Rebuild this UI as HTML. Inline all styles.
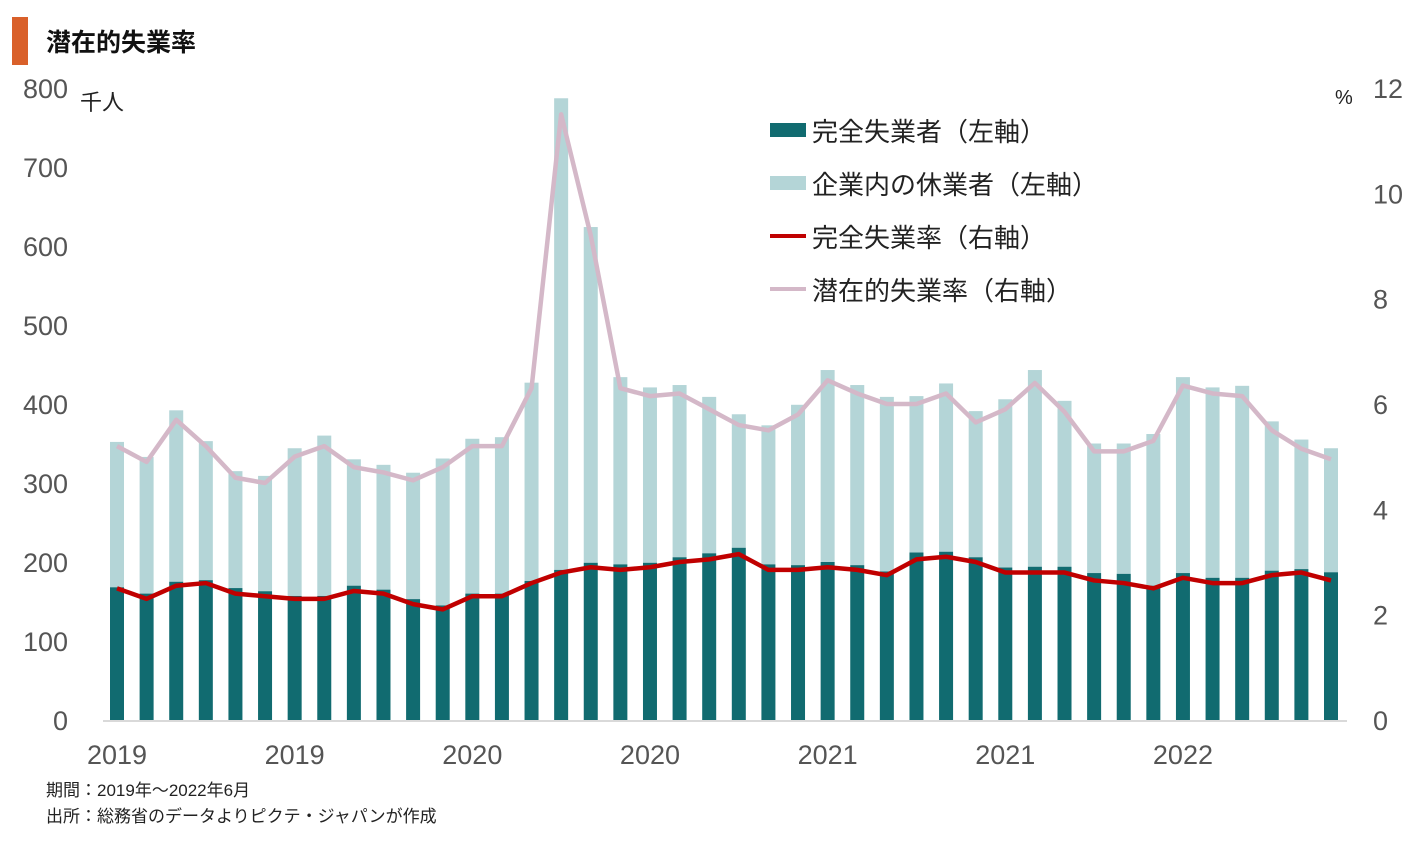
<!DOCTYPE html>
<html><head><meta charset="utf-8"><style>
body{margin:0;background:#fff;width:1419px;height:839px;overflow:hidden;font-family:"Liberation Sans","Noto Sans CJK JP",sans-serif;}
svg text{font-family:"Liberation Sans","Noto Sans CJK JP",sans-serif;}
</style></head><body>
<svg id="chart" width="1419" height="839">
<rect x="12" y="17" width="16" height="48" fill="#d9602a"/>
<text x="46" y="51" font-size="25" font-weight="bold" fill="#111">潜在的失業率</text>
<text x="80" y="110" font-size="22" fill="#222">千人</text>
<text x="1335" y="104" font-size="20" fill="#222">%</text>
<g id="axes"></g><g id="bars"></g><g id="lines"></g>
<g>
<rect x="770" y="123" width="36" height="14" fill="#116b70"/>
<text x="812" y="141" font-size="26" fill="#222">完全失業者（左軸）</text>
<rect x="770" y="176" width="36" height="14" fill="#b4d5d7"/>
<text x="812" y="194" font-size="26" fill="#222">企業内の休業者（左軸）</text>
<line x1="770" y1="236" x2="806" y2="236" stroke="#c00000" stroke-width="4"/>
<text x="812" y="247" font-size="26" fill="#222">完全失業率（右軸）</text>
<line x1="770" y1="289" x2="806" y2="289" stroke="#d4b8c8" stroke-width="4"/>
<text x="812" y="300" font-size="26" fill="#222">潜在的失業率（右軸）</text>
</g>
<text x="46" y="796" font-size="17" fill="#222">期間：2019年～2022年6月</text>
<text x="46" y="822" font-size="17" fill="#222">出所：総務省のデータよりピクテ・ジャパンが作成</text>
</svg>
<script>
const totals=[352,333,392,353,315,309,344,360,330,323,313,331,356,358,427,787,624,434,421,424,409,387,373,399,443,424,409,410,426,391,406,443,404,350,350,362,434,421,423,378,355,344];
const unemployed=[168,160,175,177,167,163,157,157,170,165,153,145,160,160,176,190,199,197,199,206,211,218,197,196,200,196,188,212,213,206,193,194,194,186,185,170,186,180,180,189,191,187];
const unempRate=[2.5,2.3,2.55,2.6,2.4,2.35,2.3,2.3,2.45,2.4,2.2,2.1,2.35,2.35,2.6,2.8,2.9,2.85,2.9,3.0,3.05,3.15,2.85,2.85,2.9,2.85,2.75,3.05,3.1,3.0,2.8,2.8,2.8,2.65,2.6,2.5,2.7,2.6,2.6,2.75,2.8,2.65];
const potentialRate=[5.2,4.9,5.7,5.2,4.6,4.5,5.0,5.2,4.8,4.7,4.55,4.8,5.2,5.2,6.3,11.5,9.2,6.3,6.15,6.2,5.9,5.6,5.5,5.8,6.45,6.2,6.0,6.0,6.2,5.65,5.9,6.4,5.85,5.1,5.1,5.3,6.35,6.2,6.15,5.5,5.15,4.95];
const leftTicks=[0,100,200,300,400,500,600,700,800];
const rightTicks=[0,2,4,6,8,10,12];
const xLabels=["2019","2019","2020","2020","2021","2021","2022"];
const NS="http://www.w3.org/2000/svg";
const y0=720,yTop=88;
const yL=v=>y0-(v/800)*(y0-yTop);
const yR=v=>y0-(v/12)*(y0-yTop);
const x0=117,step=(1331-117)/(totals.length-1);
const xC=i=>x0+i*step;
function mk(tag,attrs,parent){const e=document.createElementNS(NS,tag);for(const k in attrs)e.setAttribute(k,attrs[k]);parent.appendChild(e);return e;}
const axes=document.getElementById('axes'),bars=document.getElementById('bars'),lines=document.getElementById('lines');
leftTicks.forEach(t=>{const e=mk('text',{x:68,y:yL(t)+10,'font-size':27,fill:'#555','text-anchor':'end'},axes);e.textContent=t;

});
rightTicks.forEach(t=>{const e=mk('text',{x:1373,y:yR(t)+10,'font-size':27,fill:'#555'},axes);e.textContent=t;

});
xLabels.forEach((l,j)=>{const e=mk('text',{x:xC(j*6),y:764,'font-size':27,fill:'#555','text-anchor':'middle'},axes);e.textContent=l;

});
const ax=mk('line',{x1:103,y1:y0+1,x2:1347,y2:y0+1,stroke:'#d9d9d9','stroke-width':2},axes);


const bw=14;
totals.forEach((t,i)=>{
const a=mk('rect',{x:xC(i)-bw/2,y:yL(t),width:bw,height:yL(unemployed[i])-yL(t),fill:'#b4d5d7'},bars);


const b=mk('rect',{x:xC(i)-bw/2,y:yL(unemployed[i]),width:bw,height:y0-yL(unemployed[i]),fill:'#116b70'},bars);

});
const p1=mk('polyline',{points:potentialRate.map((v,i)=>xC(i)+','+yR(v)).join(' '),fill:'none',stroke:'#d4b8c8','stroke-width':4.5,'stroke-linejoin':'round'},lines);


const p2=mk('polyline',{points:unempRate.map((v,i)=>xC(i)+','+yR(v)).join(' '),fill:'none',stroke:'#c00000','stroke-width':4.5,'stroke-linejoin':'round'},lines);


</script>
</body></html>
